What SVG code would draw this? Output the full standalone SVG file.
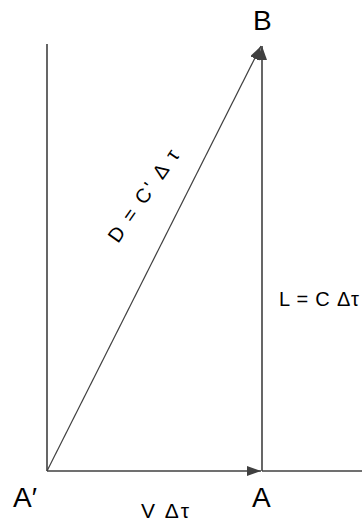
<svg xmlns="http://www.w3.org/2000/svg" width="362" height="523" viewBox="0 0 362 523">
<style>
.ln{stroke:#404040;fill:none;stroke-width:1.6}
.thin{stroke:#404040;fill:none;stroke-width:1.2}
.lbl{font-family:"Liberation Sans","DejaVu Sans",sans-serif;fill:#000}
</style>
<defs>
<marker id="arr" markerUnits="userSpaceOnUse" markerWidth="16" markerHeight="12" refX="14" refY="5" orient="auto">
<path d="M0,0 L14,5 L0,10 z" fill="#404040"/>
</marker>
</defs>
<rect width="362" height="523" fill="#fff"/>
<g id="connectors">
<path class="ln" d="M47,44 L47,471"/>
<path class="ln" d="M262,471 L362,471" stroke="#606060"/>
<path class="ln" d="M47,471 L261,471" marker-end="url(#arr)"/>
<path class="ln" d="M262,471 L262,46" marker-end="url(#arr)"/>
<path class="thin" d="M47,471 L261,46" marker-end="url(#arr)"/>
</g>
<g id="node-B"><text class="lbl" x="253" y="30" font-size="28">B</text></g>
<g id="node-A1"><text class="lbl" x="13" y="507" font-size="28">A′</text></g>
<g id="node-A"><text class="lbl" x="252" y="507" font-size="28">A</text></g>
<g id="label-V"><text class="lbl" x="141" y="518" font-size="21" textLength="48" lengthAdjust="spacing">V Δτ</text></g>
<g id="label-L"><text class="lbl" x="279" y="306" font-size="20" textLength="80" lengthAdjust="spacing">L = C Δτ</text></g>
<g id="label-D"><text class="lbl" transform="translate(118,244) rotate(-55)" x="0" y="0" font-size="20" textLength="108" lengthAdjust="spacing">D = C' Δ τ</text></g>
</svg>
